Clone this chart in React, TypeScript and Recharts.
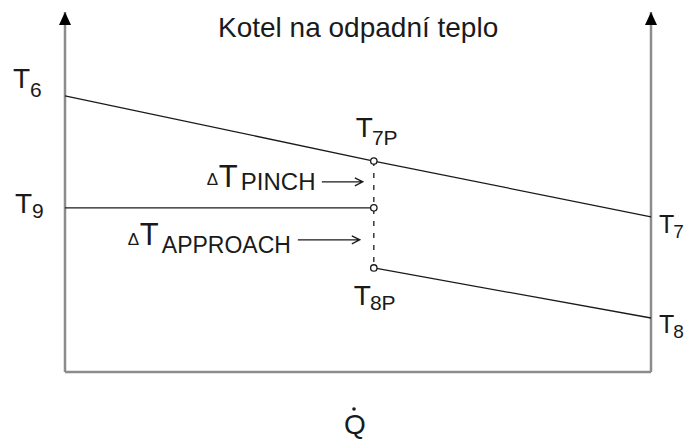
import { LineChart, Line, XAxis, YAxis, ReferenceLine, ReferenceDot } from 'recharts';

// Q̇ positions (0 = gas inlet, pinch, 100 = outlet)
const pinchQ = 52.7;
const heatFlow = [0, pinchQ, 100];
// flue gas: T6, T7P, T7
const gasTemps = [76.7, 58.6, 43.1];
// evaporator: T9 up to the pinch
const evapQ = [0, pinchQ];
const evapTemps = [45.6, 45.6];
// economizer water: T8P, T8
const ecoQ = [pinchQ, 100];
const ecoTemps = [28.9, 15.0];

const title = 'Kotel na odpadní teplo';

const gasData = heatFlow.map((q, i) => ({ q, t: gasTemps[i] }));
const evapData = evapQ.map((q, i) => ({ q, t: evapTemps[i] }));
const ecoData = ecoQ.map((q, i) => ({ q, t: ecoTemps[i] }));

const FONT = '"Liberation Sans", Arial, sans-serif';
const INK = '#1a1a1a';
const AXIS = '#8c8c8c';

function tempLabel(main: string, sub: string, dx: number, dy: number, subDx = -2, subDy = 7, size = 28) {
  return (p: any) => (
    <text x={p.cx + dx} y={p.cy + dy} fontFamily={FONT} fontSize={size} fill={INK}>
      {main}
      <tspan dx={subDx} dy={subDy} fontSize={Math.round(size * 0.75)}>
        {sub}
      </tspan>
    </text>
  );
}

function arrow(x1: number, x2: number, y: number) {
  return (
    <path
      d={`M${x1},${y} L${x2},${y} M${x2 - 8},${y - 4} L${x2},${y} L${x2 - 8},${y + 4}`}
      stroke={INK}
      strokeWidth={1.3}
      fill="none"
    />
  );
}

// annotations hung on the T9 / pinch point
const deltaLabels = (p: any) => {
  const x = p.cx;
  const y = p.cy;
  return (
    <g fontFamily={FONT} fill={INK}>
      <text x={x - 167} y={y - 23} fontSize={17}>Δ</text>
      <text x={x - 155} y={y - 21} fontSize={31}>T</text>
      <text x={x - 133} y={y - 18} fontSize={24}>PINCH</text>
      {arrow(x - 52, x - 11, y - 26)}
      <text x={x - 246} y={y + 37} fontSize={17}>Δ</text>
      <text x={x - 234} y={y + 37} fontSize={31}>T</text>
      <text x={x - 212} y={y + 45} fontSize={23}>APPROACH</text>
      {arrow(x - 76, x - 14, y + 32)}
    </g>
  );
};

const axisArrow = (p: any) => (
  <path d={`M${p.cx},${p.cy} L${p.cx + 6},${p.cy + 13} L${p.cx - 6},${p.cy + 13} Z`} fill="#000" />
);

const openDot = (p: any) => <circle cx={p.cx} cy={p.cy} r={3.2} fill="#fff" stroke={INK} strokeWidth={1.3} />;

const qLabel = (p: any) => {
  const vb = p.viewBox;
  const cx = vb.x + vb.width / 2 - 3;
  return (
    <g>
      <circle cx={cx - 1} cy={vb.y + 37} r={1.8} fill={INK} />
      <text x={cx} y={vb.y + 62} textAnchor="middle" fontFamily={FONT} fontSize={28} fill={INK}>
        Q
      </text>
    </g>
  );
};

export default function App() {
  return (
    <div style={{ position: 'relative', width: 686, height: 441 }}>
      <style>{'body { margin: 0; overflow: hidden; }'}</style>
      <div
        style={{
          position: 'absolute',
          left: 218,
          top: 14,
          fontFamily: FONT,
          fontSize: 28,
          lineHeight: '28px',
          color: INK,
          whiteSpace: 'nowrap',
        }}
      >
        {title}
      </div>
      <LineChart width={686} height={441} margin={{ top: 12, right: 35, bottom: 69, left: 65 }}>
        <XAxis type="number" dataKey="q" domain={[0, 100]} hide />
        <YAxis type="number" domain={[0, 100]} hide />

        <ReferenceLine y={0} stroke={AXIS} strokeWidth={2.5} label={qLabel} />
        <ReferenceLine x={0} stroke={AXIS} strokeWidth={2.5} />
        <ReferenceLine x={100} stroke={AXIS} strokeWidth={2.5} />
        <ReferenceDot x={0} y={100} r={0} shape={axisArrow} />
        <ReferenceDot x={100} y={100} r={0} shape={axisArrow} />

        <Line data={gasData} dataKey="t" stroke={INK} strokeWidth={1.3} dot={false} activeDot={false} isAnimationActive={false} />
        <Line data={evapData} dataKey="t" stroke={INK} strokeWidth={1.3} dot={false} activeDot={false} isAnimationActive={false} />
        <Line data={ecoData} dataKey="t" stroke={INK} strokeWidth={1.3} dot={false} activeDot={false} isAnimationActive={false} />

        <ReferenceLine
          segment={[
            { x: pinchQ, y: gasTemps[1] },
            { x: pinchQ, y: ecoTemps[0] },
          ]}
          stroke={INK}
          strokeWidth={1.3}
          strokeDasharray="5 7"
        />

        <ReferenceDot x={pinchQ} y={gasTemps[1]} r={3} shape={openDot} />
        <ReferenceDot x={pinchQ} y={evapTemps[1]} r={3} shape={openDot} />
        <ReferenceDot x={pinchQ} y={ecoTemps[0]} r={3} shape={openDot} />

        <ReferenceDot x={0} y={gasTemps[0]} r={0} shape={tempLabel('T', '6', -52, -8, 0, 9)} />
        <ReferenceDot x={0} y={evapTemps[0]} r={0} shape={tempLabel('T', '9', -50, 5, 0, 5)} />
        <ReferenceDot x={pinchQ} y={gasTemps[1]} r={0} shape={tempLabel('T', '7P', -18, -24, -1, 8)} />
        <ReferenceDot x={pinchQ} y={ecoTemps[0]} r={0} shape={tempLabel('T', '8P', -20, 37, -1, 5)} />
        <ReferenceDot x={100} y={gasTemps[2]} r={0} shape={tempLabel('T', '7', 8, 16, -1, 5, 25)} />
        <ReferenceDot x={100} y={ecoTemps[1]} r={0} shape={tempLabel('T', '8', 8, 15, -1, 5, 25)} />
        <ReferenceDot x={pinchQ} y={evapTemps[1]} r={0} shape={deltaLabels} />
      </LineChart>
    </div>
  );
}
